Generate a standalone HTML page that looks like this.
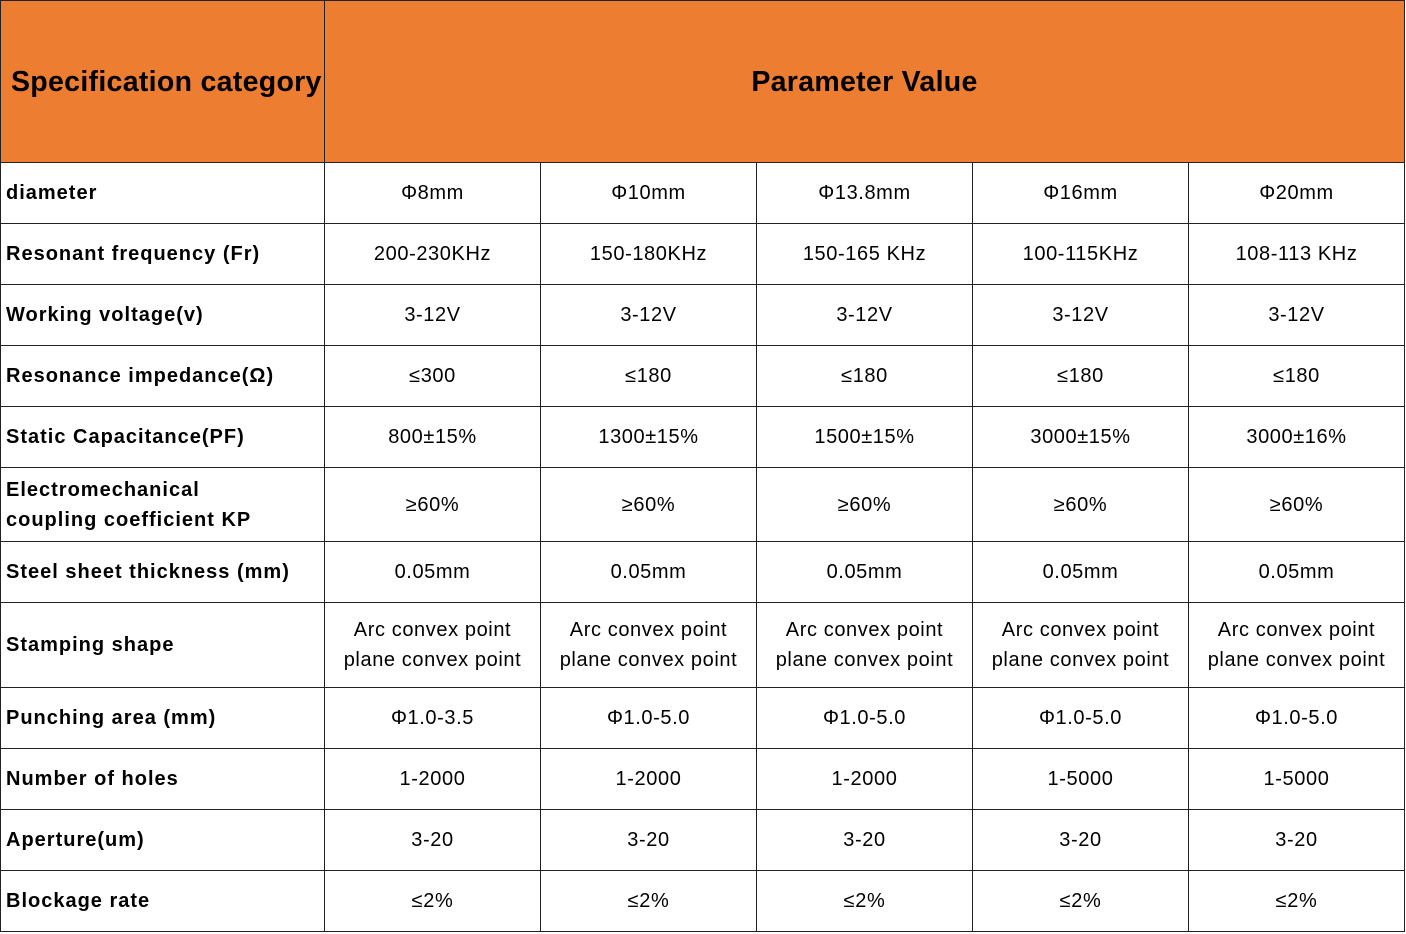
<!DOCTYPE html>
<html><head><meta charset="utf-8"><style>
body{margin:0;background:#fff;width:1406px;height:934px;overflow:hidden;font-family:"Liberation Sans","DejaVu Sans",sans-serif;}
table{position:absolute;left:0;top:0;border-collapse:collapse;table-layout:fixed;}
td{border:1px solid #222;padding:0;text-align:center;font-size:20px;color:#000;line-height:30px;letter-spacing:0.6px;}
td.l{text-align:left;padding-left:5px;font-weight:bold;letter-spacing:1px;}
tr.h td{background:#ED7D31;font-weight:bold;font-size:28.5px;height:161px;letter-spacing:0.3px;}
</style></head><body>
<table>
<colgroup><col style="width:324px"><col style="width:216px"><col style="width:216px"><col style="width:216px"><col style="width:216px"><col style="width:216px"></colgroup>
<tr class="h"><td style="text-align:left;padding-left:10px">Specification category</td><td colspan="5">Parameter Value</td></tr>
<tr style="height:61px"><td class="l">diameter</td><td>Φ8mm</td><td>Φ10mm</td><td>Φ13.8mm</td><td>Φ16mm</td><td>Φ20mm</td></tr>
<tr style="height:61px"><td class="l">Resonant frequency (Fr)</td><td>200-230KHz</td><td>150-180KHz</td><td>150-165 KHz</td><td>100-115KHz</td><td>108-113 KHz</td></tr>
<tr style="height:61px"><td class="l">Working voltage(v)</td><td>3-12V</td><td>3-12V</td><td>3-12V</td><td>3-12V</td><td>3-12V</td></tr>
<tr style="height:61px"><td class="l">Resonance impedance(Ω)</td><td>≤300</td><td>≤180</td><td>≤180</td><td>≤180</td><td>≤180</td></tr>
<tr style="height:61px"><td class="l">Static Capacitance(PF)</td><td>800±15%</td><td>1300±15%</td><td>1500±15%</td><td>3000±15%</td><td>3000±16%</td></tr>
<tr style="height:74px"><td class="l">Electromechanical<br>coupling coefficient KP</td><td>≥60%</td><td>≥60%</td><td>≥60%</td><td>≥60%</td><td>≥60%</td></tr>
<tr style="height:61px"><td class="l">Steel sheet thickness (mm)</td><td>0.05mm</td><td>0.05mm</td><td>0.05mm</td><td>0.05mm</td><td>0.05mm</td></tr>
<tr style="height:85px"><td class="l">Stamping shape</td><td>Arc convex point<br>plane convex point</td><td>Arc convex point<br>plane convex point</td><td>Arc convex point<br>plane convex point</td><td>Arc convex point<br>plane convex point</td><td>Arc convex point<br>plane convex point</td></tr>
<tr style="height:61px"><td class="l">Punching area (mm)</td><td>Φ1.0-3.5</td><td>Φ1.0-5.0</td><td>Φ1.0-5.0</td><td>Φ1.0-5.0</td><td>Φ1.0-5.0</td></tr>
<tr style="height:61px"><td class="l">Number of holes</td><td>1-2000</td><td>1-2000</td><td>1-2000</td><td>1-5000</td><td>1-5000</td></tr>
<tr style="height:61px"><td class="l">Aperture(um)</td><td>3-20</td><td>3-20</td><td>3-20</td><td>3-20</td><td>3-20</td></tr>
<tr style="height:61px"><td class="l">Blockage rate</td><td>≤2%</td><td>≤2%</td><td>≤2%</td><td>≤2%</td><td>≤2%</td></tr>
</table>
</body></html>
